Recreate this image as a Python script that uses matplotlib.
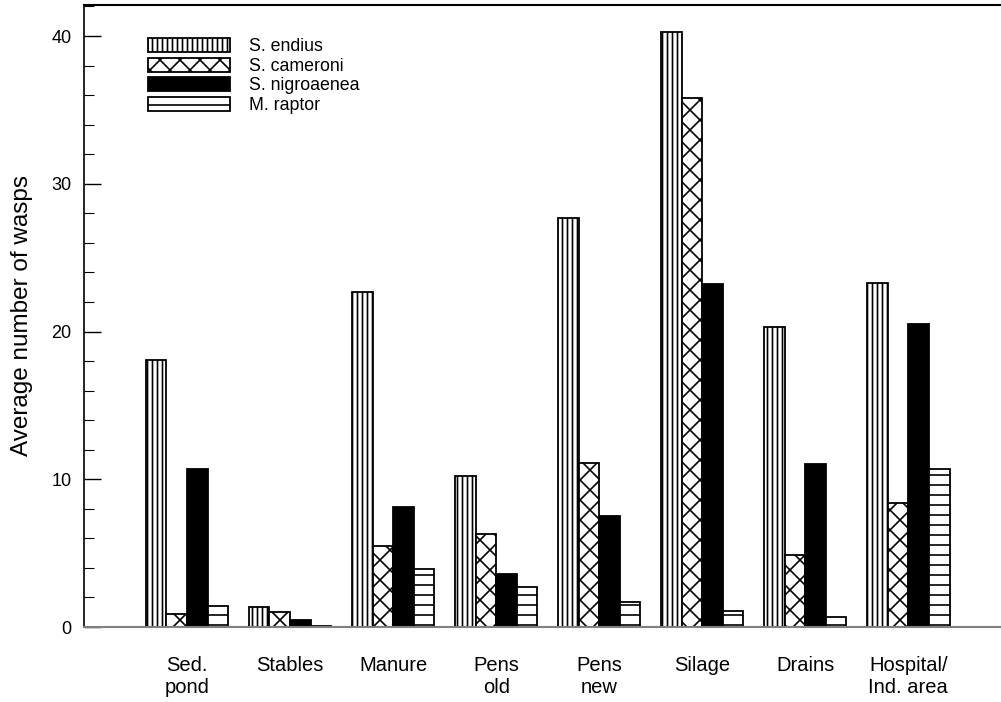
import matplotlib.pyplot as plt
import numpy as np
from matplotlib.ticker import MultipleLocator

plt.rcParams['font.family'] = ['Liberation Sans', 'DejaVu Sans']

DPI = 120
k = 100 / DPI  # sizes below are given as if at 100 dpi
plt.rcParams['hatch.linewidth'] = 1.2 * k

sites = ["Sed.\npond", "Stables", "Manure", "Pens\nold", "Pens\nnew",
         "Silage", "Drains", "Hospital/\nInd. area"]
species = ["S. endius", "S. cameroni", "S. nigroaenea", "M. raptor"]

endius = [18.1, 1.35, 22.7, 10.2, 27.7, 40.3, 20.3, 23.3]
cameroni = [0.85, 1.0, 5.5, 6.3, 11.1, 35.8, 4.9, 8.4]
nigroaenea = [10.7, 0.5, 8.1, 3.6, 7.5, 23.2, 11.0, 20.5]
raptor = [1.4, 0.05, 3.9, 2.7, 1.7, 1.1, 0.7, 10.7]

series = [endius, cameroni, nigroaenea, raptor]
hatches = ['||||', 'xx', None, '--']
fills = ['white', 'white', 'black', 'white']

fig = plt.figure(figsize=(1001/DPI, 702/DPI), dpi=DPI)
ax = fig.add_axes([84/1001, 75/702, 916/1001, 622/702])

x = np.arange(len(sites))
w = 0.2
for i, vals in enumerate(series):
    ax.bar(x + (i - 1.5)*w, vals, w, color=fills[i], edgecolor='black',
           hatch=hatches[i], linewidth=1.3*k, label=species[i])

ax.set_xlim(-1.0, 7.89)
ax.set_ylim(0, 42.1)
ax.set_xticks(x)
ax.set_xticklabels(sites, fontsize=14.5*k)
ax.tick_params(axis='x', length=0, pad=21*k)
ax.yaxis.set_major_locator(MultipleLocator(10))
ax.yaxis.set_minor_locator(MultipleLocator(2))
ax.tick_params(axis='y', which='major', direction='in', length=12*k, width=1*k,
               labelsize=13*k, pad=9*k)
ax.tick_params(axis='y', which='minor', direction='in', length=7*k, width=0.8*k)

ax.spines['right'].set_visible(False)
ax.spines['top'].set_linewidth(1.5*k)
ax.spines['left'].set_linewidth(1.2*k)
ax.spines['bottom'].set_color('#808080')
ax.spines['bottom'].set_linewidth(1.5*k)

ax.set_ylabel("Average number of wasps", fontsize=17.5*k, labelpad=13*k)

ax.legend(loc='upper left', bbox_to_anchor=(0.0699, 0.947), frameon=False,
          fontsize=12.8*k, handlelength=4.6, handleheight=0.85, labelspacing=0.13,
          handletextpad=1.1, borderaxespad=0, borderpad=0)

fig.savefig("out.png", dpi=DPI)
